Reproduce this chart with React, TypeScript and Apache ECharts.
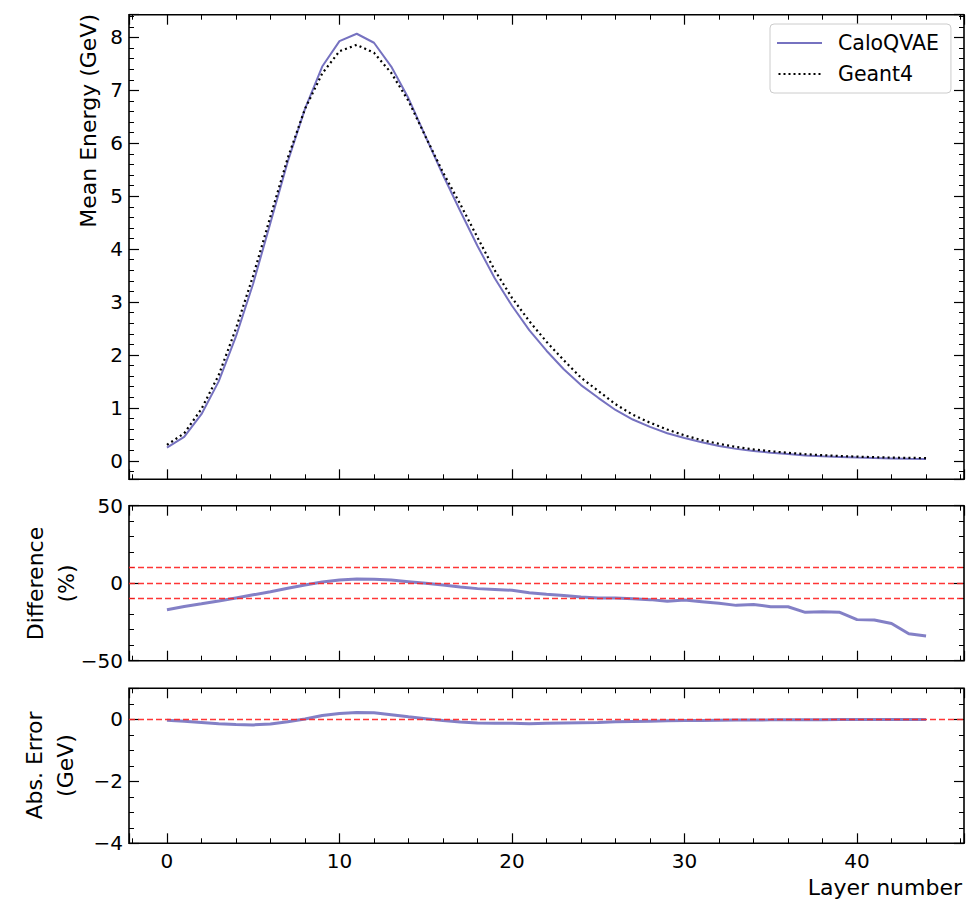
import React, { useEffect, useRef } from 'react';
import * as echarts from 'echarts';

// ---------------- data ----------------
const layers = [
  0, 1, 2, 3, 4, 5, 6, 7, 8, 9, 10, 11, 12, 13, 14, 15, 16, 17, 18, 19, 20, 21, 22,
  23, 24, 25, 26, 27, 28, 29, 30, 31, 32, 33, 34, 35, 36, 37, 38, 39, 40, 41, 42, 43, 44,
];

const caloQVAE = [
  0.25, 0.45, 0.88, 1.5, 2.35, 3.35, 4.5, 5.65, 6.65, 7.45, 7.93, 8.07, 7.9, 7.45, 6.85,
  6.12, 5.4, 4.72, 4.06, 3.45, 2.93, 2.47, 2.08, 1.73, 1.43, 1.19, 0.96, 0.78, 0.64, 0.52,
  0.43, 0.35, 0.28, 0.225, 0.185, 0.152, 0.127, 0.1, 0.086, 0.073, 0.06, 0.052, 0.045,
  0.037, 0.033,
];

const geant4 = [
  0.3, 0.52, 0.98, 1.62, 2.5, 3.5, 4.62, 5.72, 6.65, 7.32, 7.74, 7.86, 7.71, 7.33, 6.8,
  6.12, 5.45, 4.85, 4.22, 3.6, 3.08, 2.64, 2.25, 1.9, 1.57, 1.32, 1.07, 0.87, 0.72, 0.59,
  0.48, 0.39, 0.32, 0.26, 0.215, 0.18, 0.15, 0.125, 0.105, 0.09, 0.078, 0.068, 0.06,
  0.055, 0.05,
];

const differencePct = [
  -17.1, -15.0, -13.3, -11.5, -9.5, -7.5, -5.5, -3.3, -1.2, 0.8, 2.0, 2.7, 2.6, 2.0, 1.0,
  0.0, -1.2, -2.4, -3.5, -4.0, -4.6, -6.2, -7.2, -8.0, -8.9, -9.6, -9.6, -10.0, -10.6,
  -11.7, -10.9, -11.9, -13.0, -14.3, -13.7, -15.2, -15.2, -18.8, -18.4, -18.8, -23.5,
  -23.7, -26.0, -32.6, -34.0,
];

const absErrorGeV = [
  -0.03, -0.06, -0.1, -0.14, -0.17, -0.18, -0.15, -0.08, 0.01, 0.12, 0.19, 0.22, 0.21,
  0.15, 0.08, 0.02, -0.04, -0.09, -0.12, -0.13, -0.13, -0.14, -0.13, -0.12, -0.11, -0.1,
  -0.08, -0.07, -0.06, -0.05, -0.04, -0.035, -0.03, -0.025, -0.02, -0.018, -0.015, -0.013,
  -0.011, -0.01, -0.009, -0.008, -0.007, -0.006, -0.005,
];

const differenceRefLines = [-10, 0, 10];
const absErrorRefLines = [0];

const seriesNames = ['CaloQVAE', 'Geant4'];
const axisTitles = {
  x: 'Layer number',
  top: 'Mean Energy (GeV)',
  middle: 'Difference\n(%)',
  bottom: 'Abs. Error\n(GeV)',
};

// ---------------- styling ----------------
const FONT = 'DejaVu Sans';
const PURPLE = '#7672c0';
const X_MIN = -2.2;
const X_MAX = 46.2;

const grids = [
  { left: 129, top: 14.7, width: 835, height: 464.6 },
  { left: 129, top: 505.7, width: 835, height: 155 },
  { left: 129, top: 688.3, width: 835, height: 155 },
];

const minusFmt = (v: number) => String(Math.round(v * 1000) / 1000).replace('-', '\u2212');

const DOTS_ICON =
  'path://M0,0h2v2h-2z M5,0h2v2h-2z M10,0h2v2h-2z M15,0h2v2h-2z M20,0h2v2h-2z M25,0h2v2h-2z M30,0h2v2h-2z M35,0h2v2h-2z M40,0h2v2h-2z';

function xAxisFor(gridIndex: number, position: 'top' | 'bottom', showLabels: boolean) {
  return {
    type: 'value',
    gridIndex,
    position,
    min: X_MIN,
    max: X_MAX,
    splitNumber: 5,
    axisLine: { show: false, onZero: false },
    splitLine: { show: false },
    axisTick: { show: true, inside: true, length: 10, lineStyle: { color: '#000', width: 1.2 } },
    minorTick: { show: true, splitNumber: 5, length: 5, lineStyle: { color: '#000', width: 1 } },
    axisLabel: {
      show: showLabels,
      showMinLabel: false,
      showMaxLabel: false,
      margin: 8,
      color: '#000',
      fontFamily: FONT,
      fontSize: 20,
      formatter: minusFmt,
    },
  };
}

function yAxisFor(
  gridIndex: number,
  position: 'left' | 'right',
  min: number,
  max: number,
  extra: any,
  minorSplit: number,
  showMinLabel: boolean,
  showMaxLabel: boolean,
) {
  return {
    type: 'value',
    gridIndex,
    position,
    min,
    max,
    ...extra,
    axisLine: { show: false, onZero: false },
    splitLine: { show: false },
    axisTick: { show: true, inside: true, length: 10, lineStyle: { color: '#000', width: 1.2 } },
    minorTick: { show: true, splitNumber: minorSplit, length: 5, lineStyle: { color: '#000', width: 1 } },
    axisLabel: {
      show: position === 'left',
      showMinLabel,
      showMaxLabel,
      margin: 6,
      color: '#000',
      fontFamily: FONT,
      fontSize: 20,
      formatter: minusFmt,
    },
  };
}

const refLineStyle = { color: '#ff2020', type: [6, 3], width: 1.4, opacity: 0.9 };

export default function App() {
  const ref = useRef<HTMLDivElement>(null);

  useEffect(() => {
    if (!ref.current) return;
    const chart = echarts.init(ref.current, null, { renderer: 'svg' });

    const option: any = {
      animation: false,
      backgroundColor: '#ffffff',
      textStyle: { fontFamily: FONT },
      grid: grids.map((g) => ({
        ...g,
        show: true,
        borderColor: '#000',
        borderWidth: 1.6,
        backgroundColor: 'transparent',
      })),
      xAxis: [
        xAxisFor(0, 'bottom', false),
        xAxisFor(0, 'top', false),
        xAxisFor(1, 'bottom', false),
        xAxisFor(1, 'top', false),
        xAxisFor(2, 'bottom', true),
        xAxisFor(2, 'top', false),
      ],
      yAxis: [
        yAxisFor(0, 'left', -0.35, 8.43, { splitNumber: 9 }, 5, false, false),
        yAxisFor(0, 'right', -0.35, 8.43, { splitNumber: 9 }, 5, false, false),
        yAxisFor(1, 'left', -50, 50, { interval: 50 }, 5, true, true),
        yAxisFor(1, 'right', -50, 50, { interval: 50 }, 5, true, true),
        yAxisFor(2, 'left', -4, 1, { interval: 2 }, 4, true, false),
        yAxisFor(2, 'right', -4, 1, { interval: 2 }, 4, true, false),
      ],
      legend: {
        data: [
          { name: seriesNames[0], icon: 'rect', itemStyle: { color: PURPLE } },
          { name: seriesNames[1], icon: DOTS_ICON, itemStyle: { color: '#000' } },
        ],
        orient: 'vertical',
        left: 770,
        top: 24,
        itemWidth: 45,
        itemHeight: 2,
        itemGap: 7,
        padding: [7, 12, 7, 7],
        borderColor: '#cccccc',
        borderWidth: 1,
        borderRadius: 4,
        backgroundColor: '#ffffff',
        textStyle: {
          fontFamily: FONT,
          fontSize: 20.5,
          color: '#000',
          lineHeight: 24,
          padding: [0, 0, 0, 11],
        },
      },
      series: [
        {
          name: seriesNames[0],
          type: 'line',
          xAxisIndex: 0,
          yAxisIndex: 0,
          symbol: 'none',
          data: layers.map((l, i) => [l, caloQVAE[i]]),
          lineStyle: { color: PURPLE, width: 2 },
          itemStyle: { color: PURPLE },
          z: 2,
        },
        {
          name: seriesNames[1],
          type: 'line',
          xAxisIndex: 0,
          yAxisIndex: 0,
          symbol: 'none',
          data: layers.map((l, i) => [l, geant4[i]]),
          lineStyle: { color: '#000', width: 2.2, type: [2, 3.2], cap: 'butt' },
          itemStyle: { color: '#000' },
          z: 3,
        },
        {
          name: 'difference',
          type: 'line',
          xAxisIndex: 2,
          yAxisIndex: 2,
          symbol: 'none',
          data: layers.map((l, i) => [l, differencePct[i]]),
          lineStyle: { color: PURPLE, width: 3, opacity: 0.9 },
          markLine: {
            silent: true,
            symbol: 'none',
            label: { show: false },
            lineStyle: refLineStyle,
            data: differenceRefLines.map((v) => ({ yAxis: v })),
          },
        },
        {
          name: 'absError',
          type: 'line',
          xAxisIndex: 4,
          yAxisIndex: 4,
          symbol: 'none',
          data: layers.map((l, i) => [l, absErrorGeV[i]]),
          lineStyle: { color: PURPLE, width: 3, opacity: 0.9 },
          markLine: {
            silent: true,
            symbol: 'none',
            label: { show: false },
            lineStyle: refLineStyle,
            data: absErrorRefLines.map((v) => ({ yAxis: v })),
          },
        },
      ],
      graphic: [
        {
          type: 'text',
          x: 88,
          y: 14,
          rotation: Math.PI / 2,
          style: {
            text: axisTitles.top,
            fontFamily: FONT,
            fontSize: 22,
            fill: '#000',
            align: 'right',
            verticalAlign: 'middle',
          },
        },
        {
          type: 'text',
          x: 50.5,
          y: 583.5,
          rotation: Math.PI / 2,
          style: {
            text: axisTitles.middle,
            fontFamily: FONT,
            fontSize: 22,
            lineHeight: 31,
            fill: '#000',
            align: 'center',
            verticalAlign: 'middle',
          },
        },
        {
          type: 'text',
          x: 50,
          y: 765.5,
          rotation: Math.PI / 2,
          style: {
            text: axisTitles.bottom,
            fontFamily: FONT,
            fontSize: 22,
            lineHeight: 31,
            fill: '#000',
            align: 'center',
            verticalAlign: 'middle',
          },
        },
        {
          type: 'text',
          x: 962,
          y: 887,
          style: {
            text: axisTitles.x,
            fontFamily: FONT,
            fontSize: 22,
            fill: '#000',
            align: 'right',
            verticalAlign: 'middle',
          },
        },
      ],
    };

    chart.setOption(option);
    return () => chart.dispose();
  }, []);

  return (
    <div
      ref={ref}
      style={{ position: 'fixed', left: 0, top: 0, width: 969, height: 902, background: '#fff' }}
    />
  );
}
